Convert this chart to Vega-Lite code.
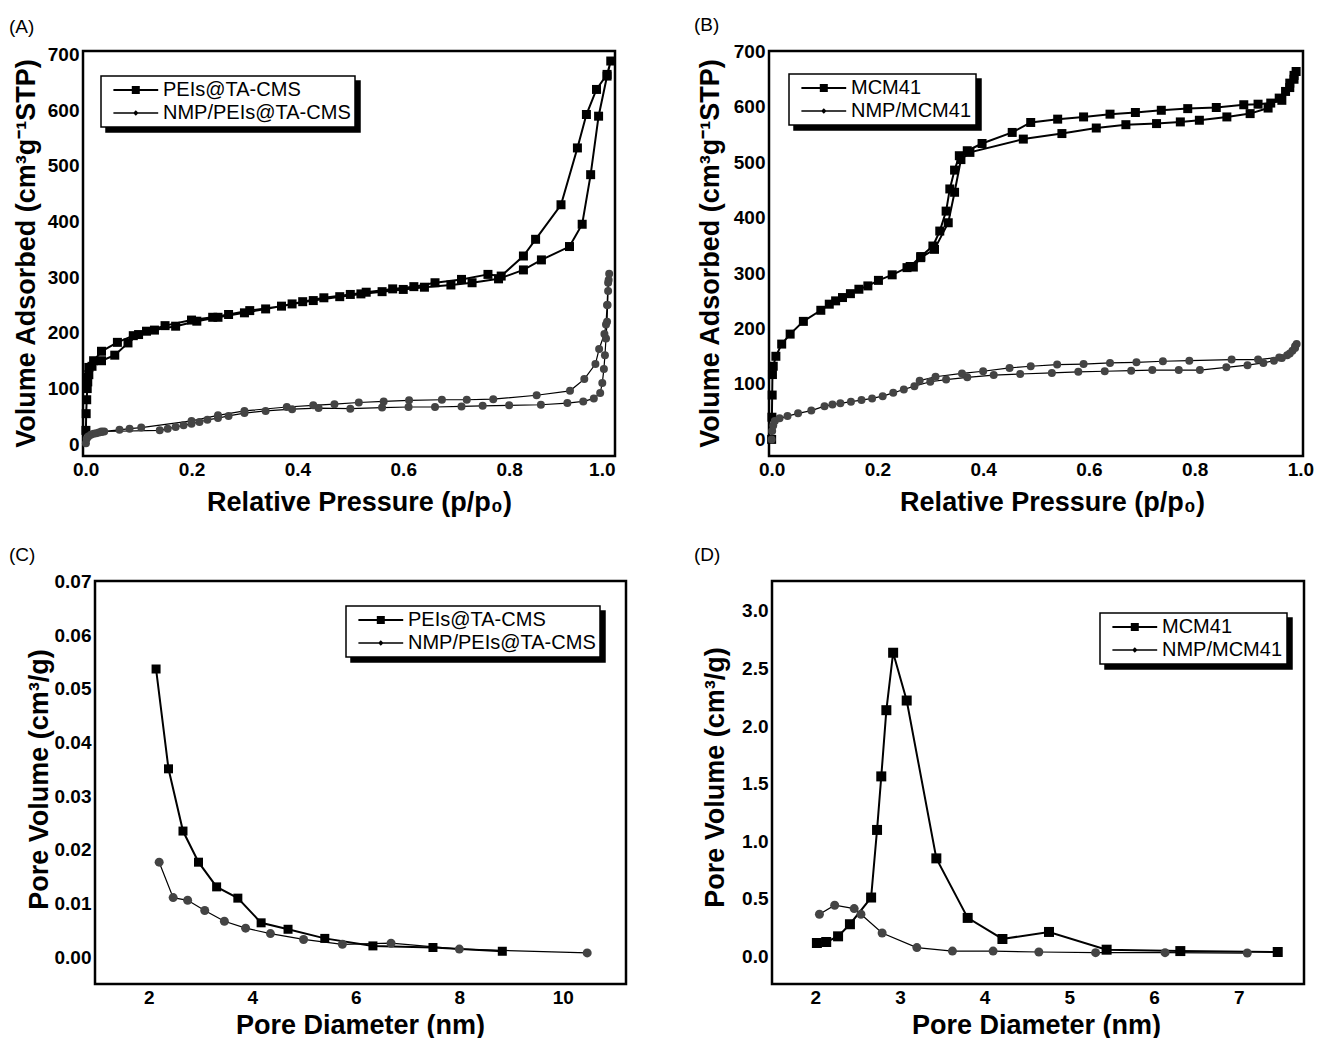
{
  "$schema": "https://vega.github.io/schema/vega-lite/v6.json",
  "autosize": {"type": "pad"},
  "padding": {"left": 7, "top": 14, "right": 5, "bottom": 5},
  "background": "white",
  "config": {
    "view": {"stroke": "black", "strokeWidth": 2.5},
    "font": "Liberation Sans",
    "axis": {"grid": false, "ticks": false, "domain": false, "labelFont": "Liberation Sans", "labelFontSize": 19, "labelFontWeight": "bold", "labelColor": "black", "labelPadding": 4, "titleFont": "Liberation Sans", "titleFontSize": 27, "titleFontWeight": "bold", "titleColor": "black", "titleBaseline": "middle"},
    "title": {"font": "Liberation Sans", "fontSize": 19, "fontWeight": "normal", "color": "black", "anchor": "start", "frame": "group", "baseline": "bottom", "offset": 8},
    "legend": {"orient": "none", "title": null, "direction": "vertical", "labelFont": "Liberation Sans", "labelFontSize": 20, "labelColor": "black", "labelLimit": 0, "symbolSize": 256, "labelOffset": 38, "rowPadding": 3, "padding": 4, "strokeColor": "black", "strokeWidth": 1.5}
  },
  "datasets": {
    "A": [
      {"s":"PEIs@TA-CMS","i":1,"x":0.0005,"y":25},{"s":"PEIs@TA-CMS","i":2,"x":0.001,"y":55},{"s":"PEIs@TA-CMS","i":3,"x":0.002,"y":80},{"s":"PEIs@TA-CMS","i":4,"x":0.003,"y":100},{"s":"PEIs@TA-CMS","i":5,"x":0.004,"y":112},{"s":"PEIs@TA-CMS","i":6,"x":0.006,"y":125},{"s":"PEIs@TA-CMS","i":7,"x":0.012,"y":140},{"s":"PEIs@TA-CMS","i":8,"x":0.03,"y":150},{"s":"PEIs@TA-CMS","i":9,"x":0.055,"y":160},{"s":"PEIs@TA-CMS","i":10,"x":0.08,"y":182},{"s":"PEIs@TA-CMS","i":11,"x":0.1,"y":197},{"s":"PEIs@TA-CMS","i":12,"x":0.13,"y":205},{"s":"PEIs@TA-CMS","i":13,"x":0.17,"y":212},{"s":"PEIs@TA-CMS","i":14,"x":0.21,"y":221},{"s":"PEIs@TA-CMS","i":15,"x":0.25,"y":228},{"s":"PEIs@TA-CMS","i":16,"x":0.3,"y":236},{"s":"PEIs@TA-CMS","i":17,"x":0.34,"y":243},{"s":"PEIs@TA-CMS","i":18,"x":0.39,"y":252},{"s":"PEIs@TA-CMS","i":19,"x":0.43,"y":258},{"s":"PEIs@TA-CMS","i":20,"x":0.48,"y":265},{"s":"PEIs@TA-CMS","i":21,"x":0.52,"y":270},{"s":"PEIs@TA-CMS","i":22,"x":0.56,"y":274},{"s":"PEIs@TA-CMS","i":23,"x":0.6,"y":278},{"s":"PEIs@TA-CMS","i":24,"x":0.64,"y":282},{"s":"PEIs@TA-CMS","i":25,"x":0.69,"y":286},{"s":"PEIs@TA-CMS","i":26,"x":0.73,"y":290},{"s":"PEIs@TA-CMS","i":27,"x":0.78,"y":297},{"s":"PEIs@TA-CMS","i":28,"x":0.827,"y":313},{"s":"PEIs@TA-CMS","i":29,"x":0.861,"y":331},{"s":"PEIs@TA-CMS","i":30,"x":0.914,"y":355},{"s":"PEIs@TA-CMS","i":31,"x":0.938,"y":395},{"s":"PEIs@TA-CMS","i":32,"x":0.954,"y":484},{"s":"PEIs@TA-CMS","i":33,"x":0.969,"y":589},{"s":"PEIs@TA-CMS","i":34,"x":0.985,"y":661},{"s":"PEIs@TA-CMS","i":35,"x":0.992,"y":688},{"s":"PEIs@TA-CMS","i":36,"x":0.985,"y":664},{"s":"PEIs@TA-CMS","i":37,"x":0.965,"y":637},{"s":"PEIs@TA-CMS","i":38,"x":0.946,"y":592},{"s":"PEIs@TA-CMS","i":39,"x":0.929,"y":532},{"s":"PEIs@TA-CMS","i":40,"x":0.898,"y":430},{"s":"PEIs@TA-CMS","i":41,"x":0.85,"y":368},{"s":"PEIs@TA-CMS","i":42,"x":0.827,"y":338},{"s":"PEIs@TA-CMS","i":43,"x":0.785,"y":302},{"s":"PEIs@TA-CMS","i":44,"x":0.76,"y":305},{"s":"PEIs@TA-CMS","i":45,"x":0.71,"y":296},{"s":"PEIs@TA-CMS","i":46,"x":0.66,"y":290},{"s":"PEIs@TA-CMS","i":47,"x":0.62,"y":283},{"s":"PEIs@TA-CMS","i":48,"x":0.58,"y":279},{"s":"PEIs@TA-CMS","i":49,"x":0.53,"y":273},{"s":"PEIs@TA-CMS","i":50,"x":0.5,"y":269},{"s":"PEIs@TA-CMS","i":51,"x":0.45,"y":263},{"s":"PEIs@TA-CMS","i":52,"x":0.41,"y":256},{"s":"PEIs@TA-CMS","i":53,"x":0.37,"y":248},{"s":"PEIs@TA-CMS","i":54,"x":0.31,"y":240},{"s":"PEIs@TA-CMS","i":55,"x":0.27,"y":233},{"s":"PEIs@TA-CMS","i":56,"x":0.24,"y":228},{"s":"PEIs@TA-CMS","i":57,"x":0.2,"y":223},{"s":"PEIs@TA-CMS","i":58,"x":0.15,"y":213},{"s":"PEIs@TA-CMS","i":59,"x":0.115,"y":203},{"s":"PEIs@TA-CMS","i":60,"x":0.09,"y":195},{"s":"PEIs@TA-CMS","i":61,"x":0.06,"y":183},{"s":"PEIs@TA-CMS","i":62,"x":0.03,"y":167},{"s":"PEIs@TA-CMS","i":63,"x":0.015,"y":150},{"s":"PEIs@TA-CMS","i":64,"x":0.006,"y":138},{"s":"PEIs@TA-CMS","i":65,"x":0.003,"y":120},
      {"s":"NMP/PEIs@TA-CMS","i":1,"x":0.0005,"y":2},{"s":"NMP/PEIs@TA-CMS","i":2,"x":0.002,"y":10},{"s":"NMP/PEIs@TA-CMS","i":3,"x":0.005,"y":14},{"s":"NMP/PEIs@TA-CMS","i":4,"x":0.01,"y":17},{"s":"NMP/PEIs@TA-CMS","i":5,"x":0.015,"y":19},{"s":"NMP/PEIs@TA-CMS","i":6,"x":0.02,"y":20},{"s":"NMP/PEIs@TA-CMS","i":7,"x":0.025,"y":21},{"s":"NMP/PEIs@TA-CMS","i":8,"x":0.03,"y":22},{"s":"NMP/PEIs@TA-CMS","i":9,"x":0.035,"y":23},{"s":"NMP/PEIs@TA-CMS","i":10,"x":0.14,"y":25},{"s":"NMP/PEIs@TA-CMS","i":11,"x":0.155,"y":28},{"s":"NMP/PEIs@TA-CMS","i":12,"x":0.17,"y":31},{"s":"NMP/PEIs@TA-CMS","i":13,"x":0.185,"y":34},{"s":"NMP/PEIs@TA-CMS","i":14,"x":0.2,"y":37},{"s":"NMP/PEIs@TA-CMS","i":15,"x":0.215,"y":40},{"s":"NMP/PEIs@TA-CMS","i":16,"x":0.23,"y":44},{"s":"NMP/PEIs@TA-CMS","i":17,"x":0.25,"y":47},{"s":"NMP/PEIs@TA-CMS","i":18,"x":0.27,"y":51},{"s":"NMP/PEIs@TA-CMS","i":19,"x":0.3,"y":56},{"s":"NMP/PEIs@TA-CMS","i":20,"x":0.34,"y":60},{"s":"NMP/PEIs@TA-CMS","i":21,"x":0.39,"y":63},{"s":"NMP/PEIs@TA-CMS","i":22,"x":0.44,"y":65},{"s":"NMP/PEIs@TA-CMS","i":23,"x":0.5,"y":64},{"s":"NMP/PEIs@TA-CMS","i":24,"x":0.56,"y":66},{"s":"NMP/PEIs@TA-CMS","i":25,"x":0.61,"y":67},{"s":"NMP/PEIs@TA-CMS","i":26,"x":0.66,"y":67},{"s":"NMP/PEIs@TA-CMS","i":27,"x":0.71,"y":68},{"s":"NMP/PEIs@TA-CMS","i":28,"x":0.75,"y":69},{"s":"NMP/PEIs@TA-CMS","i":29,"x":0.8,"y":70},{"s":"NMP/PEIs@TA-CMS","i":30,"x":0.86,"y":71},{"s":"NMP/PEIs@TA-CMS","i":31,"x":0.91,"y":74},{"s":"NMP/PEIs@TA-CMS","i":32,"x":0.94,"y":77},{"s":"NMP/PEIs@TA-CMS","i":33,"x":0.96,"y":82},{"s":"NMP/PEIs@TA-CMS","i":34,"x":0.972,"y":92},{"s":"NMP/PEIs@TA-CMS","i":35,"x":0.976,"y":110},{"s":"NMP/PEIs@TA-CMS","i":36,"x":0.979,"y":135},{"s":"NMP/PEIs@TA-CMS","i":37,"x":0.981,"y":160},{"s":"NMP/PEIs@TA-CMS","i":38,"x":0.983,"y":190},{"s":"NMP/PEIs@TA-CMS","i":39,"x":0.985,"y":220},{"s":"NMP/PEIs@TA-CMS","i":40,"x":0.986,"y":250},{"s":"NMP/PEIs@TA-CMS","i":41,"x":0.987,"y":275},{"s":"NMP/PEIs@TA-CMS","i":42,"x":0.988,"y":295},{"s":"NMP/PEIs@TA-CMS","i":43,"x":0.989,"y":306},{"s":"NMP/PEIs@TA-CMS","i":44,"x":0.987,"y":290},{"s":"NMP/PEIs@TA-CMS","i":45,"x":0.985,"y":250},{"s":"NMP/PEIs@TA-CMS","i":46,"x":0.983,"y":215},{"s":"NMP/PEIs@TA-CMS","i":47,"x":0.98,"y":198},{"s":"NMP/PEIs@TA-CMS","i":48,"x":0.97,"y":171},{"s":"NMP/PEIs@TA-CMS","i":49,"x":0.963,"y":144},{"s":"NMP/PEIs@TA-CMS","i":50,"x":0.942,"y":117},{"s":"NMP/PEIs@TA-CMS","i":51,"x":0.915,"y":96},{"s":"NMP/PEIs@TA-CMS","i":52,"x":0.852,"y":88},{"s":"NMP/PEIs@TA-CMS","i":53,"x":0.77,"y":81},{"s":"NMP/PEIs@TA-CMS","i":54,"x":0.72,"y":80},{"s":"NMP/PEIs@TA-CMS","i":55,"x":0.673,"y":80},{"s":"NMP/PEIs@TA-CMS","i":56,"x":0.611,"y":79},{"s":"NMP/PEIs@TA-CMS","i":57,"x":0.563,"y":77},{"s":"NMP/PEIs@TA-CMS","i":58,"x":0.516,"y":75},{"s":"NMP/PEIs@TA-CMS","i":59,"x":0.47,"y":72},{"s":"NMP/PEIs@TA-CMS","i":60,"x":0.43,"y":70},{"s":"NMP/PEIs@TA-CMS","i":61,"x":0.38,"y":67},{"s":"NMP/PEIs@TA-CMS","i":62,"x":0.3,"y":60},{"s":"NMP/PEIs@TA-CMS","i":63,"x":0.25,"y":52},{"s":"NMP/PEIs@TA-CMS","i":64,"x":0.2,"y":42},{"s":"NMP/PEIs@TA-CMS","i":65,"x":0.105,"y":30},{"s":"NMP/PEIs@TA-CMS","i":66,"x":0.083,"y":28},{"s":"NMP/PEIs@TA-CMS","i":67,"x":0.064,"y":26},{"s":"NMP/PEIs@TA-CMS","i":68,"x":0.03,"y":23}
    ],
    "B": [
      {"s":"MCM41","i":1,"x":0.0,"y":0},{"s":"MCM41","i":2,"x":0.0005,"y":40},{"s":"MCM41","i":3,"x":0.001,"y":80},{"s":"MCM41","i":4,"x":0.0015,"y":117},{"s":"MCM41","i":5,"x":0.003,"y":132},{"s":"MCM41","i":6,"x":0.008,"y":150},{"s":"MCM41","i":7,"x":0.019,"y":172},{"s":"MCM41","i":8,"x":0.035,"y":190},{"s":"MCM41","i":9,"x":0.06,"y":213},{"s":"MCM41","i":10,"x":0.093,"y":233},{"s":"MCM41","i":11,"x":0.109,"y":244},{"s":"MCM41","i":12,"x":0.121,"y":250},{"s":"MCM41","i":13,"x":0.134,"y":256},{"s":"MCM41","i":14,"x":0.149,"y":263},{"s":"MCM41","i":15,"x":0.165,"y":271},{"s":"MCM41","i":16,"x":0.182,"y":277},{"s":"MCM41","i":17,"x":0.202,"y":287},{"s":"MCM41","i":18,"x":0.228,"y":297},{"s":"MCM41","i":19,"x":0.256,"y":310},{"s":"MCM41","i":20,"x":0.268,"y":311},{"s":"MCM41","i":21,"x":0.282,"y":328},{"s":"MCM41","i":22,"x":0.308,"y":343},{"s":"MCM41","i":23,"x":0.334,"y":391},{"s":"MCM41","i":24,"x":0.346,"y":446},{"s":"MCM41","i":25,"x":0.358,"y":505},{"s":"MCM41","i":26,"x":0.375,"y":518},{"s":"MCM41","i":27,"x":0.476,"y":542},{"s":"MCM41","i":28,"x":0.549,"y":552},{"s":"MCM41","i":29,"x":0.614,"y":562},{"s":"MCM41","i":30,"x":0.67,"y":568},{"s":"MCM41","i":31,"x":0.728,"y":570},{"s":"MCM41","i":32,"x":0.773,"y":573},{"s":"MCM41","i":33,"x":0.809,"y":576},{"s":"MCM41","i":34,"x":0.861,"y":582},{"s":"MCM41","i":35,"x":0.905,"y":588},{"s":"MCM41","i":36,"x":0.939,"y":598},{"s":"MCM41","i":37,"x":0.96,"y":616},{"s":"MCM41","i":38,"x":0.972,"y":628},{"s":"MCM41","i":39,"x":0.98,"y":643},{"s":"MCM41","i":40,"x":0.988,"y":657},{"s":"MCM41","i":41,"x":0.992,"y":664},{"s":"MCM41","i":42,"x":0.988,"y":650},{"s":"MCM41","i":43,"x":0.98,"y":635},{"s":"MCM41","i":44,"x":0.965,"y":612},{"s":"MCM41","i":45,"x":0.944,"y":607},{"s":"MCM41","i":46,"x":0.92,"y":605},{"s":"MCM41","i":47,"x":0.893,"y":604},{"s":"MCM41","i":48,"x":0.841,"y":599},{"s":"MCM41","i":49,"x":0.787,"y":597},{"s":"MCM41","i":50,"x":0.737,"y":594},{"s":"MCM41","i":51,"x":0.688,"y":590},{"s":"MCM41","i":52,"x":0.64,"y":587},{"s":"MCM41","i":53,"x":0.59,"y":582},{"s":"MCM41","i":54,"x":0.541,"y":578},{"s":"MCM41","i":55,"x":0.49,"y":572},{"s":"MCM41","i":56,"x":0.455,"y":554},{"s":"MCM41","i":57,"x":0.398,"y":534},{"s":"MCM41","i":58,"x":0.37,"y":521},{"s":"MCM41","i":59,"x":0.355,"y":512},{"s":"MCM41","i":60,"x":0.346,"y":486},{"s":"MCM41","i":61,"x":0.337,"y":452},{"s":"MCM41","i":62,"x":0.33,"y":412},{"s":"MCM41","i":63,"x":0.318,"y":376},{"s":"MCM41","i":64,"x":0.305,"y":349},{"s":"MCM41","i":65,"x":0.282,"y":330},{"s":"MCM41","i":66,"x":0.262,"y":312},
      {"s":"NMP/MCM41","i":1,"x":0.0,"y":0},{"s":"NMP/MCM41","i":2,"x":0.001,"y":15},{"s":"NMP/MCM41","i":3,"x":0.003,"y":25},{"s":"NMP/MCM41","i":4,"x":0.006,"y":33},{"s":"NMP/MCM41","i":5,"x":0.015,"y":38},{"s":"NMP/MCM41","i":6,"x":0.03,"y":42},{"s":"NMP/MCM41","i":7,"x":0.05,"y":47},{"s":"NMP/MCM41","i":8,"x":0.075,"y":52},{"s":"NMP/MCM41","i":9,"x":0.1,"y":60},{"s":"NMP/MCM41","i":10,"x":0.115,"y":63},{"s":"NMP/MCM41","i":11,"x":0.13,"y":65},{"s":"NMP/MCM41","i":12,"x":0.15,"y":68},{"s":"NMP/MCM41","i":13,"x":0.17,"y":71},{"s":"NMP/MCM41","i":14,"x":0.19,"y":74},{"s":"NMP/MCM41","i":15,"x":0.21,"y":78},{"s":"NMP/MCM41","i":16,"x":0.23,"y":84},{"s":"NMP/MCM41","i":17,"x":0.25,"y":90},{"s":"NMP/MCM41","i":18,"x":0.27,"y":96},{"s":"NMP/MCM41","i":19,"x":0.3,"y":104},{"s":"NMP/MCM41","i":20,"x":0.33,"y":108},{"s":"NMP/MCM41","i":21,"x":0.37,"y":112},{"s":"NMP/MCM41","i":22,"x":0.42,"y":116},{"s":"NMP/MCM41","i":23,"x":0.47,"y":118},{"s":"NMP/MCM41","i":24,"x":0.53,"y":120},{"s":"NMP/MCM41","i":25,"x":0.58,"y":122},{"s":"NMP/MCM41","i":26,"x":0.63,"y":123},{"s":"NMP/MCM41","i":27,"x":0.68,"y":124},{"s":"NMP/MCM41","i":28,"x":0.72,"y":125},{"s":"NMP/MCM41","i":29,"x":0.77,"y":125},{"s":"NMP/MCM41","i":30,"x":0.81,"y":125},{"s":"NMP/MCM41","i":31,"x":0.86,"y":130},{"s":"NMP/MCM41","i":32,"x":0.9,"y":134},{"s":"NMP/MCM41","i":33,"x":0.93,"y":138},{"s":"NMP/MCM41","i":34,"x":0.95,"y":142},{"s":"NMP/MCM41","i":35,"x":0.965,"y":147},{"s":"NMP/MCM41","i":36,"x":0.975,"y":152},{"s":"NMP/MCM41","i":37,"x":0.985,"y":160},{"s":"NMP/MCM41","i":38,"x":0.99,"y":168},{"s":"NMP/MCM41","i":39,"x":0.993,"y":172},{"s":"NMP/MCM41","i":40,"x":0.99,"y":165},{"s":"NMP/MCM41","i":41,"x":0.98,"y":155},{"s":"NMP/MCM41","i":42,"x":0.96,"y":148},{"s":"NMP/MCM41","i":43,"x":0.92,"y":144},{"s":"NMP/MCM41","i":44,"x":0.87,"y":144},{"s":"NMP/MCM41","i":45,"x":0.79,"y":142},{"s":"NMP/MCM41","i":46,"x":0.74,"y":141},{"s":"NMP/MCM41","i":47,"x":0.69,"y":139},{"s":"NMP/MCM41","i":48,"x":0.64,"y":138},{"s":"NMP/MCM41","i":49,"x":0.59,"y":136},{"s":"NMP/MCM41","i":50,"x":0.54,"y":135},{"s":"NMP/MCM41","i":51,"x":0.49,"y":132},{"s":"NMP/MCM41","i":52,"x":0.45,"y":129},{"s":"NMP/MCM41","i":53,"x":0.4,"y":123},{"s":"NMP/MCM41","i":54,"x":0.36,"y":119},{"s":"NMP/MCM41","i":55,"x":0.31,"y":113},{"s":"NMP/MCM41","i":56,"x":0.28,"y":106}
    ],
    "C": [
      {"s":"PEIs@TA-CMS","i":1,"x":2.14,"y":0.0537},{"s":"PEIs@TA-CMS","i":2,"x":2.38,"y":0.0351},{"s":"PEIs@TA-CMS","i":3,"x":2.66,"y":0.0235},{"s":"PEIs@TA-CMS","i":4,"x":2.96,"y":0.0177},{"s":"PEIs@TA-CMS","i":5,"x":3.31,"y":0.0131},{"s":"PEIs@TA-CMS","i":6,"x":3.72,"y":0.011},{"s":"PEIs@TA-CMS","i":7,"x":4.17,"y":0.0064},{"s":"PEIs@TA-CMS","i":8,"x":4.69,"y":0.0052},{"s":"PEIs@TA-CMS","i":9,"x":5.4,"y":0.0035},{"s":"PEIs@TA-CMS","i":10,"x":6.33,"y":0.0021},{"s":"PEIs@TA-CMS","i":11,"x":7.49,"y":0.0018},{"s":"PEIs@TA-CMS","i":12,"x":8.83,"y":0.0011},
      {"s":"NMP/PEIs@TA-CMS","i":1,"x":2.2,"y":0.0177},{"s":"NMP/PEIs@TA-CMS","i":2,"x":2.47,"y":0.0111},{"s":"NMP/PEIs@TA-CMS","i":3,"x":2.75,"y":0.0106},{"s":"NMP/PEIs@TA-CMS","i":4,"x":3.08,"y":0.0087},{"s":"NMP/PEIs@TA-CMS","i":5,"x":3.46,"y":0.0067},{"s":"NMP/PEIs@TA-CMS","i":6,"x":3.87,"y":0.0054},{"s":"NMP/PEIs@TA-CMS","i":7,"x":4.35,"y":0.0044},{"s":"NMP/PEIs@TA-CMS","i":8,"x":4.99,"y":0.0033},{"s":"NMP/PEIs@TA-CMS","i":9,"x":5.74,"y":0.0024},{"s":"NMP/PEIs@TA-CMS","i":10,"x":6.68,"y":0.0026},{"s":"NMP/PEIs@TA-CMS","i":11,"x":8.0,"y":0.0015},{"s":"NMP/PEIs@TA-CMS","i":12,"x":10.47,"y":0.0008}
    ],
    "D": [
      {"s":"MCM41","i":1,"x":2.02,"y":0.116},{"s":"MCM41","i":2,"x":2.13,"y":0.125},{"s":"MCM41","i":3,"x":2.27,"y":0.174},{"s":"MCM41","i":4,"x":2.41,"y":0.279},{"s":"MCM41","i":5,"x":2.66,"y":0.511},{"s":"MCM41","i":6,"x":2.73,"y":1.098},{"s":"MCM41","i":7,"x":2.78,"y":1.563},{"s":"MCM41","i":8,"x":2.84,"y":2.138},{"s":"MCM41","i":9,"x":2.92,"y":2.637},{"s":"MCM41","i":10,"x":3.08,"y":2.222},{"s":"MCM41","i":11,"x":3.43,"y":0.851},{"s":"MCM41","i":12,"x":3.8,"y":0.334},{"s":"MCM41","i":13,"x":4.21,"y":0.151},{"s":"MCM41","i":14,"x":4.76,"y":0.212},{"s":"MCM41","i":15,"x":5.44,"y":0.058},{"s":"MCM41","i":16,"x":6.31,"y":0.046},{"s":"MCM41","i":17,"x":7.46,"y":0.038},
      {"s":"NMP/MCM41","i":1,"x":2.05,"y":0.366},{"s":"NMP/MCM41","i":2,"x":2.23,"y":0.444},{"s":"NMP/MCM41","i":3,"x":2.46,"y":0.415},{"s":"NMP/MCM41","i":4,"x":2.54,"y":0.366},{"s":"NMP/MCM41","i":5,"x":2.79,"y":0.203},{"s":"NMP/MCM41","i":6,"x":3.2,"y":0.076},{"s":"NMP/MCM41","i":7,"x":3.62,"y":0.046},{"s":"NMP/MCM41","i":8,"x":4.1,"y":0.046},{"s":"NMP/MCM41","i":9,"x":4.64,"y":0.038},{"s":"NMP/MCM41","i":10,"x":5.31,"y":0.032},{"s":"NMP/MCM41","i":11,"x":6.13,"y":0.032},{"s":"NMP/MCM41","i":12,"x":7.1,"y":0.029}
    ]
  },
  "bounds": "flush",
  "spacing": 530,
  "resolve": {"scale": {"color": "independent", "shape": "independent"}, "legend": {"color": "independent", "shape": "independent"}},
  "vconcat": [
    {
      "bounds": "flush",
      "spacing": 0,
      "resolve": {"scale": {"color": "independent", "shape": "independent"}, "legend": {"color": "independent", "shape": "independent"}},
      "hconcat": [
        {
          "width": 532, "height": 405,
          "data": {"name": "A"},
          "title": {"text": "(A)", "dx": -74},
          "encoding": {
            "x": {"field": "x", "type": "quantitative", "scale": {"domain": [-0.005, 1.0], "nice": false, "zero": false}, "axis": {"title": "Relative Pressure (p/p₀)", "values": [0, 0.2, 0.4, 0.6, 0.8, 1.0], "format": ".1f", "titleX": 276, "titleY": 46}},
            "y": {"field": "y", "type": "quantitative", "scale": {"domain": [-21, 706], "nice": false, "zero": false}, "axis": {"title": "Volume Adsorbed (cm³g⁻¹STP)", "values": [0, 100, 200, 300, 400, 500, 600, 700], "titleX": -57, "titleY": 202}},
            "order": {"field": "i", "type": "quantitative"}
          },
          "layer": [
            {"transform": [{"filter": "datum.s == 'PEIs@TA-CMS'"}], "mark": {"type": "line", "color": "black", "strokeWidth": 2}},
            {"transform": [{"filter": "datum.s != 'PEIs@TA-CMS'"}], "mark": {"type": "line", "color": "black", "strokeWidth": 1.2}},
            {"transform": [{"filter": "datum.s == 'PEIs@TA-CMS'"}], "mark": {"type": "square", "size": 81, "color": "black", "opacity": 1}},
            {"transform": [{"filter": "datum.s != 'PEIs@TA-CMS'"}], "mark": {"type": "circle", "size": 64, "color": "#444444", "opacity": 1}},
            {
              "mark": {"type": "point", "filled": true, "opacity": 0},
              "encoding": {
                "color": {"field": "s", "type": "nominal", "scale": {"domain": ["NMP/PEIs@TA-CMS", "PEIs@TA-CMS"], "range": ["black", "black"]}, "legend": {"legendX": 23, "legendY": 30, "fillColor": "black", "symbolOpacity": 0, "symbolType": "M-0.2,-0.13H5.4V0.13H-0.2Z", "labelColor": "black"}},
                "shape": {"field": "s", "type": "nominal", "scale": {"domain": ["PEIs@TA-CMS", "NMP/PEIs@TA-CMS"], "range": ["M-0.2,-0.13H5.4V0.13H-0.2Z M2.1,-0.5H3.1V0.5H2.1Z", "M-0.2,-0.08H5.4V0.08H-0.2Z M2.6,-0.35L2.95,0L2.6,0.35L2.25,0Z"]}, "legend": {"legendX": 18, "legendY": 25, "fillColor": "white", "symbolOpacity": 1, "symbolFillColor": "black", "symbolStrokeWidth": 0}}
              }
            }
          ]
        },
        {"width": 154, "height": 10, "data": {"values": []}, "mark": "point", "view": {"stroke": null}},
        {
          "width": 534, "height": 405,
          "data": {"name": "B"},
          "title": {"text": "(B)", "dx": -75},
          "encoding": {
            "x": {"field": "x", "type": "quantitative", "scale": {"domain": [-0.005, 1.005], "nice": false, "zero": false}, "axis": {"title": "Relative Pressure (p/p₀)", "values": [0, 0.2, 0.4, 0.6, 0.8, 1.0], "format": ".1f", "titleX": 283, "titleY": 46}},
            "y": {"field": "y", "type": "quantitative", "scale": {"domain": [-30, 701], "nice": false, "zero": false}, "axis": {"title": "Volume Adsorbed (cm³g⁻¹STP)", "values": [0, 100, 200, 300, 400, 500, 600, 700], "titleX": -59, "titleY": 202}},
            "order": {"field": "i", "type": "quantitative"}
          },
          "layer": [
            {"transform": [{"filter": "datum.s == 'MCM41'"}], "mark": {"type": "line", "color": "black", "strokeWidth": 2}},
            {"transform": [{"filter": "datum.s != 'MCM41'"}], "mark": {"type": "line", "color": "black", "strokeWidth": 1.2}},
            {"transform": [{"filter": "datum.s == 'MCM41'"}], "mark": {"type": "square", "size": 81, "color": "black", "opacity": 1}},
            {"transform": [{"filter": "datum.s != 'MCM41'"}], "mark": {"type": "circle", "size": 64, "color": "#444444", "opacity": 1}},
            {
              "mark": {"type": "point", "filled": true, "opacity": 0},
              "encoding": {
                "color": {"field": "s", "type": "nominal", "scale": {"domain": ["NMP/MCM41", "MCM41"], "range": ["black", "black"]}, "legend": {"legendX": 25, "legendY": 28, "fillColor": "black", "symbolOpacity": 0, "symbolType": "M-0.2,-0.13H5.4V0.13H-0.2Z", "labelColor": "black"}},
                "shape": {"field": "s", "type": "nominal", "scale": {"domain": ["MCM41", "NMP/MCM41"], "range": ["M-0.2,-0.13H5.4V0.13H-0.2Z M2.1,-0.5H3.1V0.5H2.1Z", "M-0.2,-0.08H5.4V0.08H-0.2Z M2.6,-0.35L2.95,0L2.6,0.35L2.25,0Z"]}, "legend": {"legendX": 20, "legendY": 23, "fillColor": "white", "symbolOpacity": 1, "symbolFillColor": "black", "symbolStrokeWidth": 0}}
              }
            }
          ]
        }
      ]
    },
    {
      "bounds": "flush",
      "spacing": 0,
      "resolve": {"scale": {"color": "independent", "shape": "independent"}, "legend": {"color": "independent", "shape": "independent"}},
      "hconcat": [
        {"width": 12, "height": 10, "data": {"values": []}, "mark": "point", "view": {"stroke": null}},
        {
          "width": 531, "height": 403,
          "data": {"name": "C"},
          "title": {"text": "(C)", "dx": -86, "offset": 8},
          "encoding": {
            "x": {"field": "x", "type": "quantitative", "scale": {"domain": [0.96, 11.22], "nice": false, "zero": false}, "axis": {"title": "Pore Diameter (nm)", "values": [2, 4, 6, 8, 10], "titleX": 265, "titleY": 41}},
            "y": {"field": "y", "type": "quantitative", "scale": {"domain": [-0.005, 0.0701], "nice": false, "zero": false}, "axis": {"title": "Pore Volume (cm³/g)", "values": [0, 0.01, 0.02, 0.03, 0.04, 0.05, 0.06, 0.07], "format": ".2f", "titleX": -56, "titleY": 198}},
            "order": {"field": "i", "type": "quantitative"}
          },
          "layer": [
            {"transform": [{"filter": "datum.s == 'PEIs@TA-CMS'"}], "mark": {"type": "line", "color": "black", "strokeWidth": 2}},
            {"transform": [{"filter": "datum.s != 'PEIs@TA-CMS'"}], "mark": {"type": "line", "color": "black", "strokeWidth": 1.2}},
            {"transform": [{"filter": "datum.s == 'PEIs@TA-CMS'"}], "mark": {"type": "square", "size": 81, "color": "black", "opacity": 1}},
            {"transform": [{"filter": "datum.s != 'PEIs@TA-CMS'"}], "mark": {"type": "circle", "size": 81, "color": "#444444", "opacity": 1}},
            {
              "mark": {"type": "point", "filled": true, "opacity": 0},
              "encoding": {
                "color": {"field": "s", "type": "nominal", "scale": {"domain": ["NMP/PEIs@TA-CMS", "PEIs@TA-CMS"], "range": ["black", "black"]}, "legend": {"legendX": 256, "legendY": 30, "fillColor": "black", "symbolOpacity": 0, "symbolType": "M-0.2,-0.13H5.4V0.13H-0.2Z", "labelColor": "black"}},
                "shape": {"field": "s", "type": "nominal", "scale": {"domain": ["PEIs@TA-CMS", "NMP/PEIs@TA-CMS"], "range": ["M-0.2,-0.13H5.4V0.13H-0.2Z M2.1,-0.5H3.1V0.5H2.1Z", "M-0.2,-0.08H5.4V0.08H-0.2Z M2.6,-0.35L2.95,0L2.6,0.35L2.25,0Z"]}, "legend": {"legendX": 251, "legendY": 25, "fillColor": "white", "symbolOpacity": 1, "symbolFillColor": "black", "symbolStrokeWidth": 0}}
              }
            }
          ]
        },
        {"width": 146, "height": 10, "data": {"values": []}, "mark": "point", "view": {"stroke": null}},
        {
          "width": 532, "height": 403,
          "data": {"name": "D"},
          "title": {"text": "(D)", "dx": -78, "offset": 16},
          "encoding": {
            "x": {"field": "x", "type": "quantitative", "scale": {"domain": [1.49, 7.77], "nice": false, "zero": false}, "axis": {"title": "Pore Diameter (nm)", "values": [2, 3, 4, 5, 6, 7], "titleX": 264, "titleY": 41}},
            "y": {"field": "y", "type": "quantitative", "scale": {"domain": [-0.24, 3.26], "nice": false, "zero": false}, "axis": {"title": "Pore Volume (cm³/g)", "values": [0, 0.5, 1.0, 1.5, 2.0, 2.5, 3.0], "format": ".1f", "titleX": -57, "titleY": 196}},
            "order": {"field": "i", "type": "quantitative"}
          },
          "layer": [
            {"transform": [{"filter": "datum.s == 'MCM41'"}], "mark": {"type": "line", "color": "black", "strokeWidth": 2}},
            {"transform": [{"filter": "datum.s != 'MCM41'"}], "mark": {"type": "line", "color": "black", "strokeWidth": 1.2}},
            {"transform": [{"filter": "datum.s == 'MCM41'"}], "mark": {"type": "square", "size": 100, "color": "black", "opacity": 1}},
            {"transform": [{"filter": "datum.s != 'MCM41'"}], "mark": {"type": "circle", "size": 81, "color": "#444444", "opacity": 1}},
            {
              "mark": {"type": "point", "filled": true, "opacity": 0},
              "encoding": {
                "color": {"field": "s", "type": "nominal", "scale": {"domain": ["NMP/MCM41", "MCM41"], "range": ["black", "black"]}, "legend": {"legendX": 333, "legendY": 37, "fillColor": "black", "symbolOpacity": 0, "symbolType": "M-0.2,-0.13H5.4V0.13H-0.2Z", "labelColor": "black"}},
                "shape": {"field": "s", "type": "nominal", "scale": {"domain": ["MCM41", "NMP/MCM41"], "range": ["M-0.2,-0.13H5.4V0.13H-0.2Z M2.1,-0.5H3.1V0.5H2.1Z", "M-0.2,-0.08H5.4V0.08H-0.2Z M2.6,-0.35L2.95,0L2.6,0.35L2.25,0Z"]}, "legend": {"legendX": 328, "legendY": 32, "fillColor": "white", "symbolOpacity": 1, "symbolFillColor": "black", "symbolStrokeWidth": 0}}
              }
            }
          ]
        }
      ]
    }
  ]
}
